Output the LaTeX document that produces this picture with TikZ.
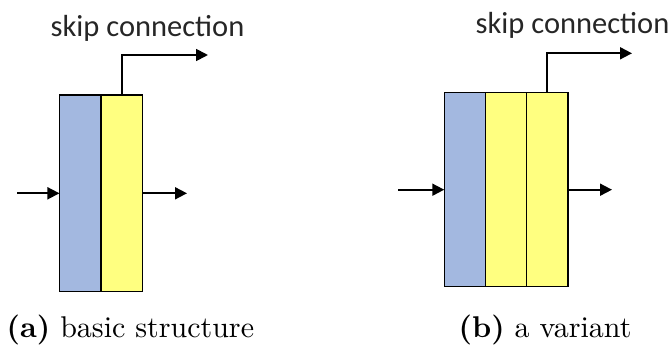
\documentclass[tikz,border=0pt]{standalone}
\usepackage{fontspec}
\newfontfamily\labelfont{Carlito}
\newfontfamily\capfont{lmroman10-regular}[Extension=.otf, BoldFont=lmroman10-bold]
\usetikzlibrary{arrows.meta}
\definecolor{convblue}{HTML}{A3B8E0}
\definecolor{convyellow}{HTML}{FFFF80}
\definecolor{labelgray}{HTML}{262626}
\begin{document}
\begin{tikzpicture}[x=1pt,y=-1pt,
  block/.style={draw=black, line width=1.3pt, minimum width=41.5pt,
    inner sep=0pt, outer sep=0pt, anchor=center},
  blueblock/.style={block, fill=convblue},
  yellowblock/.style={block, fill=convyellow},
  flow/.style={line width=1.8pt, -{Triangle[length=12pt,width=12pt]}},
  skiplabel/.style={font=\labelfont\fontsize{30.5}{36}\selectfont, text=labelgray, inner sep=0pt},
  caption/.style={font=\capfont\fontsize{30}{36}\selectfont, inner sep=0pt, anchor=base west}]
\useasboundingbox (0,0) rectangle (672,345);

% (a) basic structure
\node[blueblock, minimum height=196.7pt] (blueA) at (80.2,193.3) {};
\node[yellowblock, minimum height=196.7pt] (yelA) at (121.9,193.3) {};
\coordinate (inA) at (17,193.3);
\coordinate (outA) at (187,193.3);
\coordinate (skipA) at (208,55);
\draw[flow] (inA) -- (blueA.west);
\draw[flow] (yelA.east) -- (outA);
\draw[flow] (yelA.north) |- (skipA);
\node[skiplabel] (skiplabelA) at (147.5,28) {skip connection};
\node[caption] (capA) at (6.5,337) {\textbf{(a)} basic structure};

% (b) a variant
\node[blueblock, minimum height=194pt] (blueB) at (465,189.7) {};
\node[yellowblock, minimum height=194pt] (yelB1) at (506.2,189.7) {};
\node[yellowblock, minimum height=194pt] (yelB2) at (547.2,189.7) {};
\coordinate (inB) at (398,189.7);
\coordinate (outB) at (612,189.7);
\coordinate (skipB) at (632,53.3);
\draw[flow] (inB) -- (blueB.west);
\draw[flow] (yelB2.east) -- (outB);
\draw[flow] (yelB2.north) |- (skipB);
\node[skiplabel] (skiplabelB) at (572.5,25) {skip connection};
\node[caption] (capB) at (458.5,337) {\textbf{(b)} a variant};
\end{tikzpicture}
\end{document}
